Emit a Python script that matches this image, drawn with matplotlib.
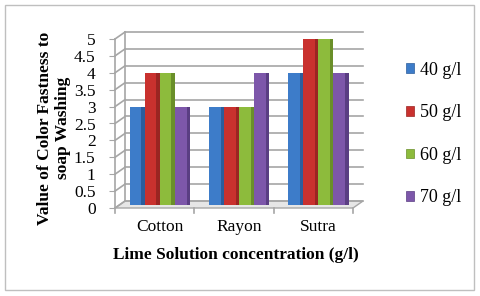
import matplotlib.pyplot as plt
import numpy as np
from matplotlib.patches import Patch, Polygon, Rectangle

plt.rcParams['font.family'] = ['Liberation Serif', 'DejaVu Serif']

categories = ["Cotton", "Rayon", "Sutra"]
series_names = ["40 g/l", "50 g/l", "60 g/l", "70 g/l"]
values = {
    "40 g/l": [3, 3, 4],
    "50 g/l": [4, 3, 5],
    "60 g/l": [4, 3, 5],
    "70 g/l": [3, 4, 4],
}
y_ticks = [0, 0.5, 1, 1.5, 2, 2.5, 3, 3.5, 4, 4.5, 5]

colors = ["#3D7CC9", "#C9312E", "#8DBB3C", "#7D57AA"]
dark = ["#2C5D9C", "#9A2522", "#6A8F29", "#5A3E83"]

fig = plt.figure(figsize=(4.8, 2.96), dpi=100)
ax = fig.add_axes([115 / 480, 1 - 208 / 296, 238 / 480, 169 / 296])
ax.set_xlim(0, 3)
ax.set_ylim(0, 5)

# depth offset of the back wall (data units)
dx = 10 / 79
dy = 7 / 33.8
grid_c = "#A6A6A6"

# floor
floor = Polygon([(0, 0), (3, 0), (3 + dx, dy), (dx, dy)], closed=True,
                facecolor="#E6E6E6", edgecolor=grid_c, lw=1, clip_on=False, zorder=1)
ax.add_patch(floor)

# back wall grid and side wall lines
for v in y_ticks:
    ax.plot([dx, 3 + dx], [v + dy, v + dy], color=grid_c, lw=1.2, clip_on=False, zorder=1)
    ax.plot([0, dx], [v, v + dy], color=grid_c, lw=1.2, clip_on=False, zorder=1)
ax.plot([dx, dx], [dy, 5 + dy], color=grid_c, lw=1.2, clip_on=False, zorder=1)
ax.plot([0, 0], [0, 5], color=grid_c, lw=1.2, clip_on=False, zorder=1)
for k in range(4):
    ax.plot([k, k], [0, -0.15], color=grid_c, lw=1.2, clip_on=False, zorder=1)

# bars with a darker right edge
n = len(series_names)
bw = 0.19
x = np.arange(len(categories)) + 0.5 + dx / 2
for i, name in enumerate(series_names):
    pos = x + (i - (n - 1) / 2) * bw
    vals = np.array(values[name])
    ax.bar(pos, vals - dy / 2, bottom=dy / 2, width=bw, color=colors[i], zorder=3, linewidth=0)
    ax.bar(pos + bw * 0.39, vals - dy / 2, bottom=dy / 2, width=bw * 0.22, color=dark[i],
           zorder=3, linewidth=0)

for s in ax.spines.values():
    s.set_visible(False)
ax.set_yticks(y_ticks)
ax.set_yticklabels(["0", "0.5", "1", "1.5", "2", "2.5", "3", "3.5", "4", "4.5", "5"])
ax.tick_params(axis="y", length=4, color=grid_c, labelsize=12.5, pad=10)
ax.set_xticks(x)
ax.set_xticklabels(categories)
ax.tick_params(axis="x", length=0, labelsize=12.5, pad=8)

fig.text(236 / 480, 1 - 255 / 296, "Lime Solution concentration (g/l)",
         ha="center", va="center", fontsize=12.5, fontweight="bold")
fig.text(54 / 480, 1 - 128 / 296, "Value of Color Fastness to\nsoap Washing",
         ha="center", va="center", rotation=90, fontsize=12.5, fontweight="bold",
         linespacing=1.1)

handles = [Patch(facecolor=colors[i], edgecolor=dark[i], lw=0.5) for i in range(n)]
fig.legend(handles, series_names, loc="center left", bbox_to_anchor=(406 / 480, 1 - 134 / 296),
           frameon=False, fontsize=13, handlelength=0.45, handleheight=0.45,
           handletextpad=0.3, labelspacing=1.42, borderaxespad=0, borderpad=0)

fig.patches.append(Rectangle((5 / 480, 6 / 296), 469 / 480, 285 / 296, transform=fig.transFigure,
                             fill=False, edgecolor="#BFBFBF", lw=1))

fig.savefig("out.png", dpi=100)
